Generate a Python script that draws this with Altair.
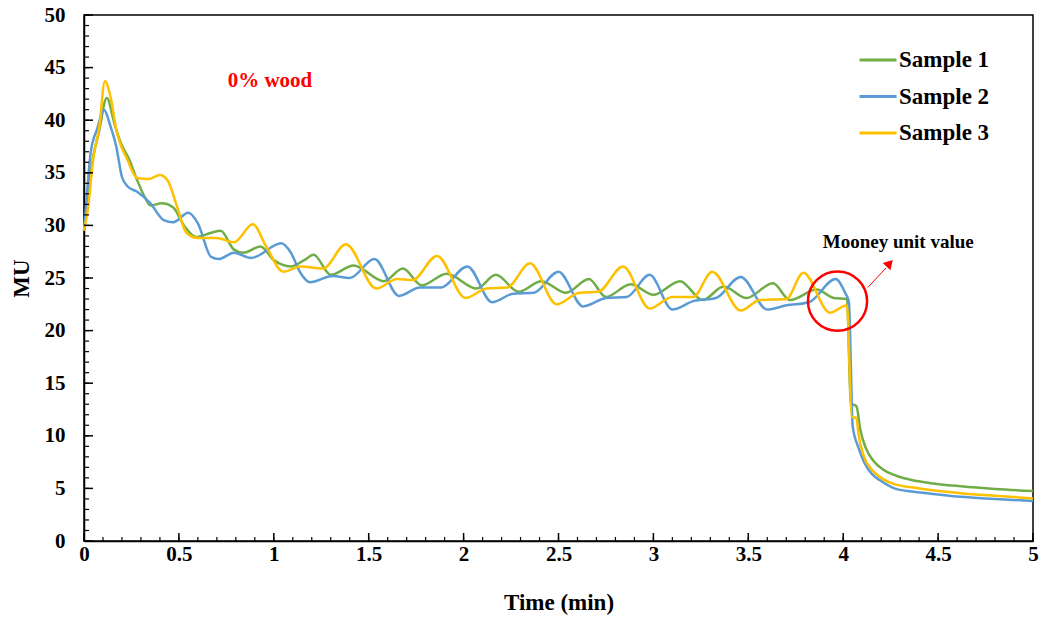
import altair as alt
import pandas as pd

series_names = ["Sample 1", "Sample 2", "Sample 3"]
series_colors = ["#70AD47", "#5B9BD5", "#FFC000"]

# Sample 1 (green)
t1 = [0.0, 0.02, 0.04, 0.08, 0.12, 0.16, 0.19, 0.24, 0.28, 0.32, 0.35, 0.41, 0.47, 0.53, 0.59,
      0.67, 0.72, 0.79, 0.84, 0.93, 1.0, 1.09, 1.16, 1.21, 1.30, 1.42, 1.58, 1.68, 1.78, 1.91,
      2.07, 2.17, 2.29, 2.41, 2.54, 2.66, 2.75, 2.88, 3.0, 3.14, 3.26, 3.37, 3.49, 3.63, 3.72,
      3.86, 3.95, 4.02, 4.04, 4.07, 4.09, 4.12, 4.16, 4.21, 4.28, 4.36, 4.46, 4.62, 4.80, 5.0]
y1 = [29.5, 32.5, 35.6, 39.0, 42.1, 39.7, 38.0, 36.2, 34.3, 32.7, 31.9, 32.1, 31.7, 29.9, 28.9,
      29.3, 29.5, 27.7, 27.4, 28.0, 26.7, 26.1, 26.7, 27.2, 25.3, 26.2, 24.7, 25.9, 24.3, 25.4,
      24.0, 25.3, 23.7, 24.7, 23.6, 24.9, 23.2, 24.4, 23.4, 24.7, 22.9, 24.2, 23.1, 24.5, 22.9,
      23.9, 23.1, 23.0, 13.1, 12.8, 10.6, 8.8, 7.6, 6.8, 6.2, 5.8, 5.5, 5.2, 4.95, 4.75]

# Sample 2 (blue)
t2 = [0.0, 0.02, 0.035, 0.07, 0.105, 0.14, 0.17, 0.20, 0.23, 0.28, 0.35, 0.42, 0.47, 0.55, 0.60,
      0.67, 0.71, 0.79, 0.88, 1.04, 1.09, 1.14, 1.19, 1.31, 1.40, 1.53, 1.66, 1.77, 1.88, 2.02,
      2.15, 2.26, 2.37, 2.50, 2.63, 2.75, 2.86, 2.98, 3.10, 3.21, 3.33, 3.46, 3.60, 3.70, 3.82,
      3.96, 4.01, 4.03, 4.05, 4.08, 4.11, 4.15, 4.20, 4.27, 4.36, 4.46, 4.62, 4.80, 5.0]
y2 = [29.5, 34.0, 36.9, 39.2, 41.0, 39.4, 37.5, 34.6, 33.7, 33.2, 32.1, 30.5, 30.3, 31.2, 30.2,
      27.0, 26.8, 27.4, 26.9, 28.3, 27.4, 25.5, 24.6, 25.2, 25.0, 26.8, 23.3, 24.1, 24.1, 26.1,
      22.7, 23.5, 23.6, 25.6, 22.3, 23.1, 23.2, 25.3, 22.0, 22.8, 23.1, 25.1, 22.0, 22.4, 22.7,
      24.9, 23.6, 22.7, 10.9, 8.9, 7.5, 6.4, 5.7, 5.0, 4.7, 4.5, 4.2, 4.0, 3.8]

# Sample 3 (yellow)
t3 = [0.0, 0.02, 0.05, 0.08, 0.11, 0.14, 0.17, 0.23, 0.28, 0.34, 0.40, 0.44, 0.49, 0.54, 0.60,
      0.70, 0.79, 0.89, 0.96, 1.05, 1.14, 1.26, 1.38, 1.54, 1.65, 1.73, 1.86, 2.01, 2.12, 2.23,
      2.35, 2.49, 2.61, 2.71, 2.84, 2.98, 3.10, 3.21, 3.31, 3.46, 3.56, 3.70, 3.79, 3.93, 4.02,
      4.045, 4.07, 4.08, 4.11, 4.15, 4.20, 4.27, 4.36, 4.46, 4.62, 4.80, 5.0]
y3 = [29.5, 31.5, 36.5, 39.3, 43.7, 42.2, 39.1, 36.2, 34.5, 34.4, 34.8, 34.3, 31.8, 29.3, 28.8,
      28.8, 28.4, 30.1, 28.0, 25.6, 26.1, 25.9, 28.2, 24.0, 24.9, 24.8, 27.1, 23.1, 24.0, 24.1,
      26.4, 22.5, 23.6, 23.7, 26.1, 22.1, 23.2, 23.2, 25.6, 21.9, 22.9, 23.0, 25.5, 21.7, 22.4,
      11.8, 11.7, 10.2, 8.0, 6.8, 6.0, 5.4, 5.1, 4.85, 4.55, 4.3, 4.05]

x_major = [0, 0.5, 1, 1.5, 2, 2.5, 3, 3.5, 4, 4.5, 5]
x_minor = [round(i * 0.1, 1) for i in range(51)]
y_major = [0, 5, 10, 15, 20, 25, 30, 35, 40, 45, 50]
y_minor = list(range(0, 51))

# annotations
note_t = [0.98]
note_mu = [43.7]
note_text = ["0% wood"]
mooney_t = [4.29]
mooney_mu = [28.4]
mooney_text = ["Mooney unit value"]
circle_t = [3.97]
circle_mu = [22.8]
arrow_t, arrow_mu, arrow_t2, arrow_mu2 = [4.13], [24.1], [4.225], [25.95]
head_t, head_mu = [4.245], [26.4]

rows = []
for name, ts, ys in zip(series_names, [t1, t2, t3], [y1, y2, y3]):
    for t, y in zip(ts, ys):
        rows.append({"t": t, "mu": y, "series": name})
df = pd.DataFrame(rows)

W, H = 949, 526
FONT = "Liberation Serif"
x_scale = alt.Scale(domain=[0, 5], nice=False, zero=False)
y_scale = alt.Scale(domain=[0, 50], nice=False)
XT = "Time (min)"
YT = "MU"

lines = alt.Chart(df).mark_line(interpolate="monotone", strokeWidth=2.5).encode(
    x=alt.X("t:Q", scale=x_scale, title=XT,
            axis=alt.Axis(values=x_major, labelExpr="'' + datum.value")),
    y=alt.Y("mu:Q", scale=y_scale, title=YT, axis=alt.Axis(values=y_major)),
    color=alt.Color("series:N",
                    scale=alt.Scale(domain=series_names, range=series_colors),
                    legend=alt.Legend(title=None, orient="none", legendX=774, legendY=25,
                                      symbolType="stroke", symbolSize=1369,
                                      symbolStrokeWidth=3, labelFont=FONT,
                                      labelFontWeight="bold", labelFontSize=23,
                                      labelColor="black", labelOffset=1,
                                      rowPadding=4.5, padding=0)),
)

xmin = alt.Chart(pd.DataFrame({"t": x_minor})).mark_rule(color="black", strokeWidth=1.2).encode(
    x=alt.X("t:Q", scale=x_scale, title=XT), y=alt.value(H), y2=alt.value(H - 4))
xmaj = alt.Chart(pd.DataFrame({"t": x_major})).mark_rule(color="black", strokeWidth=1.5).encode(
    x=alt.X("t:Q", scale=x_scale, title=XT), y=alt.value(H), y2=alt.value(H - 8))
ymin = alt.Chart(pd.DataFrame({"mu": y_minor})).mark_rule(color="black", strokeWidth=1.2).encode(
    y=alt.Y("mu:Q", scale=y_scale, title=YT), x=alt.value(0), x2=alt.value(5))
ymaj = alt.Chart(pd.DataFrame({"mu": y_major})).mark_rule(color="black", strokeWidth=1.5).encode(
    y=alt.Y("mu:Q", scale=y_scale, title=YT), x=alt.value(0), x2=alt.value(9))

note = alt.Chart(pd.DataFrame({"t": note_t, "mu": note_mu, "label": note_text})).mark_text(
    font=FONT, fontWeight="bold", fontSize=21, color="red").encode(
    x=alt.X("t:Q", scale=x_scale, title=XT), y=alt.Y("mu:Q", scale=y_scale, title=YT), text="label:N")
mooney = alt.Chart(pd.DataFrame({"t": mooney_t, "mu": mooney_mu, "label": mooney_text})).mark_text(
    font=FONT, fontWeight="bold", fontSize=19, color="black").encode(
    x=alt.X("t:Q", scale=x_scale, title=XT), y=alt.Y("mu:Q", scale=y_scale, title=YT), text="label:N")
circle = alt.Chart(pd.DataFrame({"t": circle_t, "mu": circle_mu})).mark_point(
    shape="circle", filled=False, size=3500, color="red", strokeWidth=2.5, opacity=1).encode(
    x=alt.X("t:Q", scale=x_scale, title=XT), y=alt.Y("mu:Q", scale=y_scale, title=YT))
arrow = alt.Chart(pd.DataFrame({"t": arrow_t, "mu": arrow_mu, "t2": arrow_t2, "mu2": arrow_mu2})).mark_rule(
    color="red", strokeWidth=1).encode(
    x=alt.X("t:Q", scale=x_scale, title=XT), y=alt.Y("mu:Q", scale=y_scale, title=YT),
    x2="t2:Q", y2="mu2:Q")
head = alt.Chart(pd.DataFrame({"t": head_t, "mu": head_mu})).mark_point(
    shape="triangle-up", filled=True, size=110, color="red", angle=43, opacity=1).encode(
    x=alt.X("t:Q", scale=x_scale, title=XT), y=alt.Y("mu:Q", scale=y_scale, title=YT))

chart = alt.layer(lines, xmin, xmaj, ymin, ymaj, note, mooney, circle, arrow, head).properties(
    width=W, height=H,
    autosize=alt.AutoSizeParams(type="none"),
    padding={"left": 84, "top": 15, "right": 15, "bottom": 82},
).configure_view(stroke="black", strokeWidth=1.5).configure_axis(
    domainColor="black", domainWidth=1.5, ticks=False, grid=False, labelFlush=False,
    labelFont=FONT, labelFontWeight="bold", labelFontSize=21, labelColor="black",
    titleFont=FONT, titleFontWeight="bold", titleFontSize=23, titleColor="black",
).configure_axisX(labelPadding=2, titlePadding=27).configure_axisY(labelPadding=19, titlePadding=11)

chart.save("out.html", embed_options={"renderer": "svg", "actions": False})
